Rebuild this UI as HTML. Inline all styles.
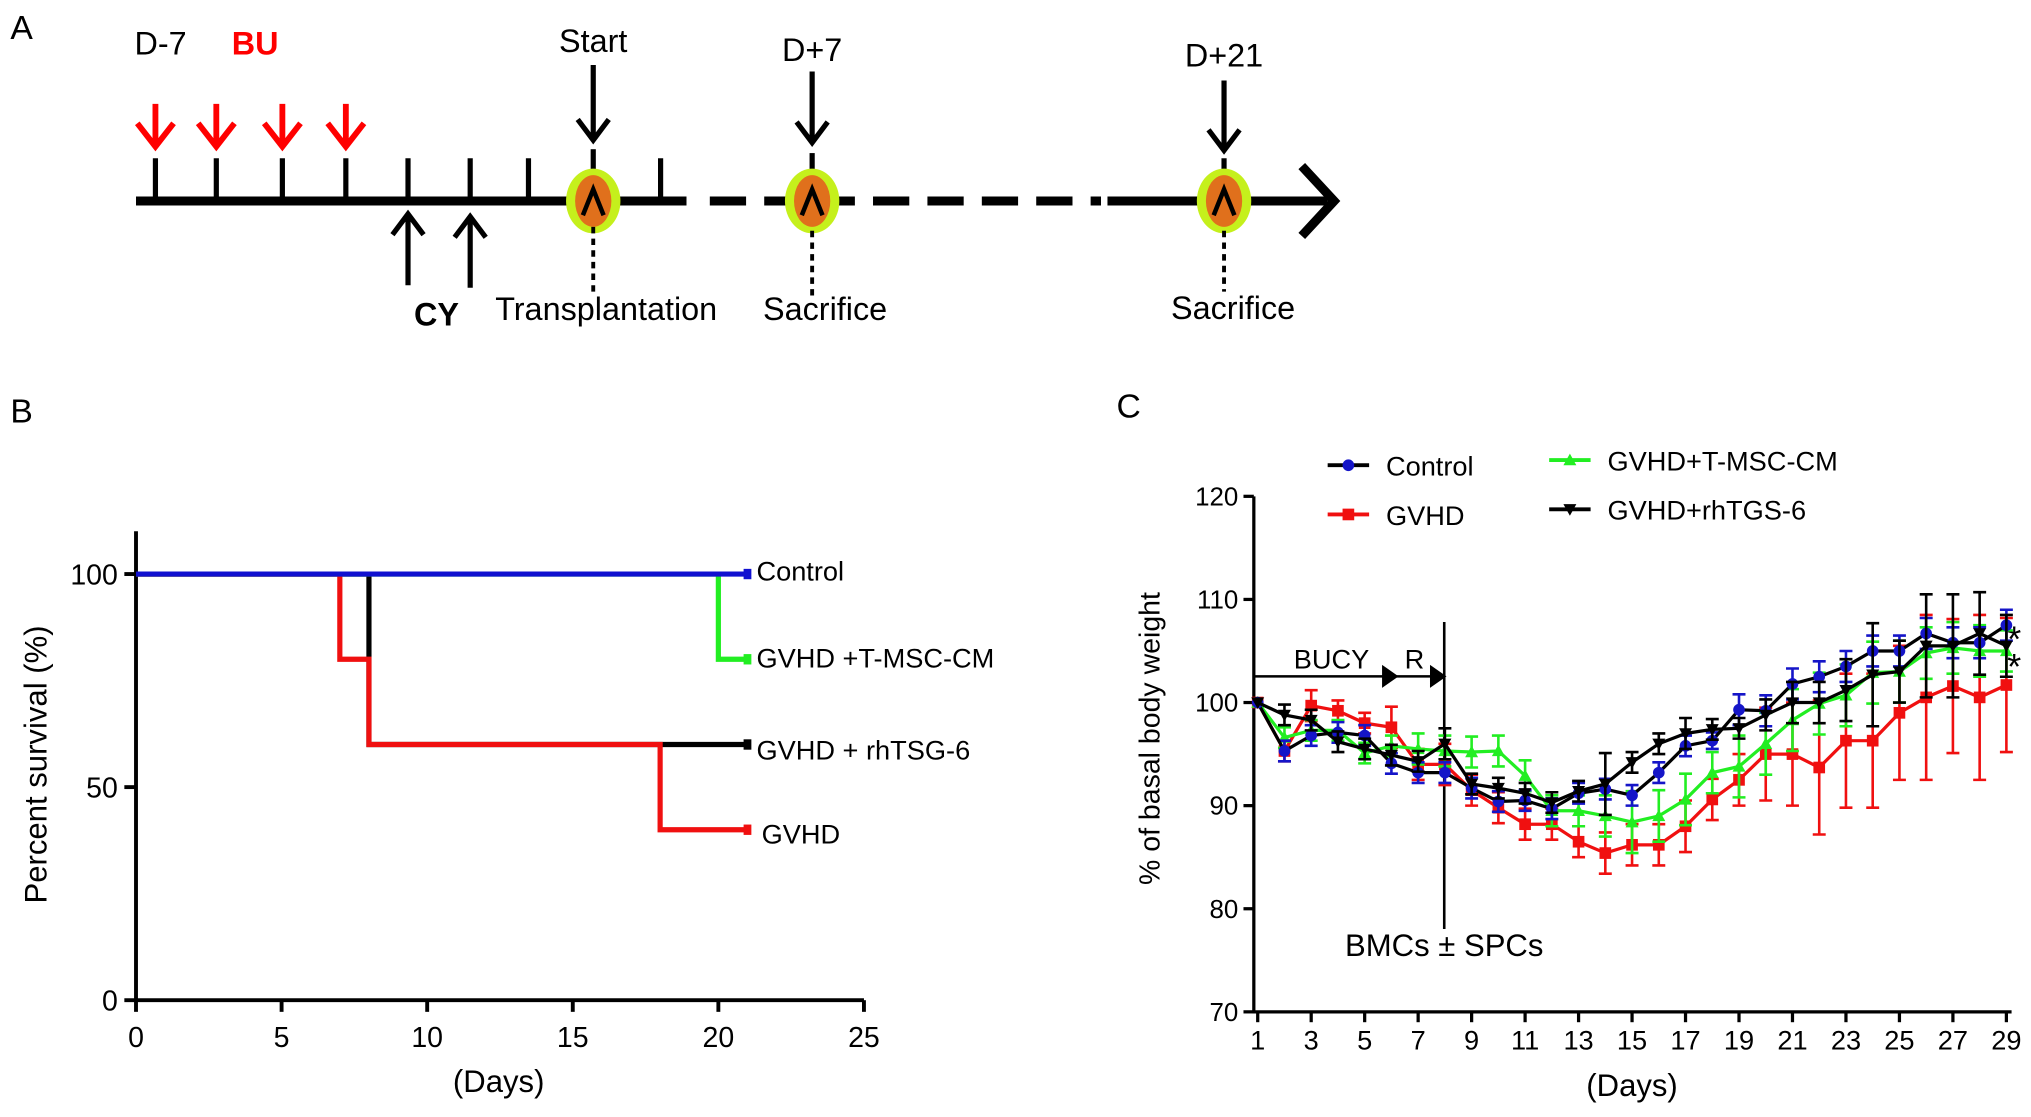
<!DOCTYPE html>
<html><head><meta charset="utf-8"><style>
html,body{margin:0;padding:0;background:#fff}
svg{display:block;font-family:"Liberation Sans",sans-serif}
</style></head><body>
<svg id="fig" width="2031" height="1117" viewBox="0 0 1568 862" xmlns="http://www.w3.org/2000/svg">
<rect width="1568" height="862" fill="#fff"/>
<g id="panelA">
<text x="8" y="30" font-size="26">A</text>
<line x1="105" y1="155" x2="530" y2="155" stroke="#000" stroke-width="7"/>
<line x1="548" y1="155" x2="850" y2="155" stroke="#000" stroke-width="7" stroke-dasharray="28,14"/>
<line x1="855" y1="155" x2="1025" y2="155" stroke="#000" stroke-width="7"/>
<polyline points="1005,128 1030,155 1005,182" fill="none" stroke="#000" stroke-width="7"/>
<g stroke="#000" stroke-width="4">
<line x1="120" y1="122" x2="120" y2="155"/><line x1="167" y1="122" x2="167" y2="155"/>
<line x1="218" y1="122" x2="218" y2="155"/><line x1="267" y1="122" x2="267" y2="155"/>
<line x1="315" y1="122" x2="315" y2="155"/><line x1="363" y1="122" x2="363" y2="155"/>
<line x1="408" y1="122" x2="408" y2="155"/><line x1="510" y1="122" x2="510" y2="155"/>
</g>
<g stroke="#f00" stroke-width="4.5" fill="none">
<path d="M120 80V113M106 95L120 113L134 95"/><path d="M167 80V113M153 95L167 113L181 95"/>
<path d="M218 80V113M204 95L218 113L232 95"/><path d="M267 80V113M253 95L267 113L281 95"/>
</g>
<g stroke="#000" stroke-width="4" fill="none">
<path d="M315 220V165M303 181L315 165L327 181"/><path d="M363 222V167M351 183L363 167L375 183"/>
<path d="M458 50V108M446 92L458 108L470 92"/><path d="M627 55V110M615 94L627 110L639 94"/><path d="M945 62V116M933 100L945 116L957 100"/>
<line x1="458" y1="115" x2="458" y2="135"/><line x1="627" y1="118" x2="627" y2="135"/><line x1="945" y1="122" x2="945" y2="135"/>
</g>
<g>
<ellipse cx="458" cy="155" rx="21" ry="25" fill="#c5f01c"/><ellipse cx="458" cy="155" rx="14" ry="20" fill="#e0701c"/>
<ellipse cx="627" cy="155" rx="21" ry="25" fill="#c5f01c"/><ellipse cx="627" cy="155" rx="14" ry="20" fill="#e0701c"/>
<ellipse cx="945" cy="155" rx="21" ry="25" fill="#c5f01c"/><ellipse cx="945" cy="155" rx="14" ry="20" fill="#e0701c"/>
<g stroke="#000" stroke-width="3.5" fill="none"><path d="M450 166L458 146L466 166"/><path d="M619 166L627 146L635 166"/><path d="M937 166L945 146L953 166"/></g>
<g stroke="#000" stroke-width="3" stroke-dasharray="5,4"><line x1="458" y1="175" x2="458" y2="225"/><line x1="627" y1="178" x2="627" y2="228"/><line x1="945" y1="178" x2="945" y2="225"/></g>
</g>
<g font-size="25" text-anchor="middle">
<text x="124" y="42">D-7</text><text x="197" y="42" fill="#f00" font-weight="bold">BU</text>
<text x="458" y="40">Start</text><text x="627" y="47">D+7</text><text x="945" y="51">D+21</text>
<text x="337" y="251" font-weight="bold">CY</text><text x="468" y="247">Transplantation</text>
<text x="637" y="247">Sacrifice</text><text x="952" y="246">Sacrifice</text>
</g>
</g>
<g id="panelB">
<text x="8" y="326" font-size="26">B</text>
</g>
<g id="panelC">
<text x="862" y="322" font-size="26">C</text>
</g>
</svg>
<script>
const NS='http://www.w3.org/2000/svg';
function mk(parent,tag,attrs,txt){const e=document.createElementNS(NS,tag);for(const k in attrs)e.setAttribute(k,attrs[k]);if(txt!==undefined)e.textContent=txt;parent.appendChild(e);return e;}

// ---- Panel B data ----
const survXTicks=[0,5,10,15,20,25];
const survYTicks=[0,50,100];
const ctrlT=[0,21];const ctrlS=[100,100];
const mscT=[0,20,21];const mscS=[100,80,80];
const tsgT=[0,8,21];const tsgS=[100,60,60];
const gvhdT=[0,7,8,18,21];const gvhdS=[100,80,60,40,40];
const survNames=['Control','GVHD +T-MSC-CM','GVHD + rhTSG-6','GVHD'];
const survLabelY=[440,507,578,643];

// ---- Panel C data ----
const days=[1,2,3,4,5,6,7,8,9,10,11,12,13,14,15,16,17,18,19,20,21,22,23,24,25,26,27,28,29];
const dayTicks=[1,3,5,7,9,11,13,15,17,19,21,23,25,27,29];
const wYTicks=[70,80,90,100,110,120];
const ctrlW=[100,95.3,96.8,97.1,96.8,94.1,93.2,93.2,91.7,90.4,90.5,89.7,91.2,91.6,91,93.2,95.8,96.3,99.3,99.2,101.8,102.5,103.5,105,105,106.7,105.8,105.8,107.5];
const ctrlE=[0,1,1,1,1,1,1,1,1,1,1,1,1,1,1,1,1,0.8,1.5,1.5,1.5,1.5,1.5,1.5,1.5,1.5,1.5,1.5,1.5];
const gvhdW=[100,95.3,99.7,99.2,98,97.6,94,94,91.5,89.8,88.2,88.2,86.5,85.4,86.2,86.2,88,90.6,92.5,95,95,93.7,96.3,96.3,99,100.5,101.6,100.5,101.7];
const gvhdE=[0,1,1.5,1,1,2,1.5,2,1.5,1.5,1.5,1.5,1.5,2,2,2,2.5,2,2.5,4.5,5,6.5,6.5,6.5,6.5,8,6.5,8,6.5];
const mscW=[100,96.6,97.3,97.3,95.1,95.8,95.5,95.3,95.2,95.3,92.9,89.5,89.5,89,88.4,89,90.6,93.2,93.8,96,98.3,99.9,100.7,102.9,103,104.8,105.3,105,105];
const mscE=[0,1,1,1,1,1,1.5,1.5,1.5,1.5,1.5,1.5,1.5,2,3,2.5,2.5,2,3,3,3,3,3,3,3,2.5,2.5,2.5,2];
const tsgW=[100,98.8,98.3,96.2,95.5,94.9,94.3,96,92.1,91.7,91.2,90.3,91.4,92.1,94.2,96,97,97.4,97.5,98.8,100,100,101.2,102.7,103,105.5,105.5,106.7,105.5];
const tsgE=[0,1,1,1,1,1,1,1.5,1,1,1,1,1,3,1,1,1.5,1,1,1.5,2,2,3,5,3,5,5,4,3];

// ===== Panel B =====
const pB=document.getElementById('panelB');
const bx=d=>105+d*(667-105)/25;
const by=v=>772-v*(772-443)/100;
const axB=mk(pB,'g',{stroke:'#000','stroke-width':3});


mk(axB,'line',{x1:105,y1:410,x2:105,y2:773});
mk(axB,'line',{x1:104,y1:772,x2:667,y2:772});
survXTicks.forEach(t=>{mk(axB,'line',{x1:bx(t),y1:772,x2:bx(t),y2:781});
const l=mk(pB,'text',{x:bx(t),y:808,'font-size':22,'text-anchor':'middle'},t);

});
survYTicks.forEach(t=>{mk(axB,'line',{x1:96,y1:by(t),x2:105,y2:by(t)});
const l=mk(pB,'text',{x:91,y:by(t)+8,'font-size':22,'text-anchor':'end'},t);

});
const bxt=mk(pB,'text',{x:385,y:843,'font-size':24,'text-anchor':'middle'},'(Days)');


const byt=mk(pB,'text',{x:0,y:0,'font-size':24,'text-anchor':'middle',transform:'translate(36,590) rotate(-90)'},'Percent survival (%)');


function stepPath(T,S){let d='M'+bx(T[0])+' '+by(S[0]);for(let i=1;i<T.length;i++){d+='H'+bx(T[i])+'V'+by(S[i]);}return d;}
[[tsgT,tsgS,'#000','survival-line-rhtsg6'],[mscT,mscS,'#22ee22','survival-line-tmsc-cm'],[gvhdT,gvhdS,'#f01010','survival-line-gvhd'],[ctrlT,ctrlS,'#1010d0','survival-line-control']].forEach(s=>{
const p=mk(pB,'path',{d:stepPath(s[0],s[1]),fill:'none',stroke:s[2],'stroke-width':4});


const T=s[0],S=s[1];const r=mk(pB,'rect',{x:bx(T[T.length-1])-3,y:by(S[S.length-1])-4,width:6,height:8,fill:s[2]});

});
survNames.forEach((n,i)=>{const t=mk(pB,'text',{x:i===3?588:584,y:survLabelY[i]+8,'font-size':21},n);

});

// ===== Panel C =====
const pC=document.getElementById('panelC');
const cx=d=>971+(d-1)*(1549-971)/28;
const cy=v=>781-(v-70)*(781-383)/50;
const axC=mk(pC,'g',{stroke:'#000','stroke-width':2.5});


mk(axC,'line',{x1:968,y1:383,x2:968,y2:782});
mk(axC,'line',{x1:967,y1:781,x2:1553,y2:781});
dayTicks.forEach(t=>{mk(axC,'line',{x1:cx(t),y1:781,x2:cx(t),y2:789});
const l=mk(pC,'text',{x:cx(t),y:810,'font-size':21,'text-anchor':'middle'},t);

});
wYTicks.forEach(t=>{mk(axC,'line',{x1:960,y1:cy(t),x2:968,y2:cy(t)});
const l=mk(pC,'text',{x:956,y:cy(t)+7,'font-size':20,'text-anchor':'end'},t);

});
const cxt=mk(pC,'text',{x:1260,y:846,'font-size':24,'text-anchor':'middle'},'(Days)');


const cyt=mk(pC,'text',{x:0,y:0,'font-size':22,'text-anchor':'middle',transform:'translate(895,570) rotate(-90)'},'% of basal body weight');


// annotations
const ann=mk(pC,'g',{stroke:'#000','stroke-width':2});


mk(ann,'line',{x1:968,y1:522,x2:1113,y2:522});
mk(ann,'path',{d:'M1068 515L1078 522L1068 529Z',fill:'#000'});
mk(ann,'path',{d:'M1105 515L1115 522L1105 529Z',fill:'#000'});
mk(ann,'line',{x1:1115,y1:480,x2:1115,y2:717});
const t1=mk(pC,'text',{x:1028,y:516,'font-size':21,'text-anchor':'middle'},'BUCY');


const t2=mk(pC,'text',{x:1092,y:516,'font-size':21,'text-anchor':'middle'},'R');


const t3=mk(pC,'text',{x:1115,y:738,'font-size':24,'text-anchor':'middle'},'BMCs ± SPCs');


const st1=mk(pC,'text',{x:1555,y:503,'font-size':28,'text-anchor':'middle'},'*');


const st2=mk(pC,'text',{x:1555,y:524,'font-size':28,'text-anchor':'middle'},'*');



function marker(g,type,x,y,col){
if(type==='circle')return mk(g,'circle',{cx:x,cy:y,r:4.5,fill:col});
if(type==='square')return mk(g,'rect',{x:x-4.5,y:y-4.5,width:9,height:9,fill:col});
if(type==='up')return mk(g,'path',{d:`M${x-5} ${y+4}L${x+5} ${y+4}L${x} ${y-5}Z`,fill:col});
return mk(g,'path',{d:`M${x-5} ${y-4}L${x+5} ${y-4}L${x} ${y+5}Z`,fill:col});}
const series=[
{v:gvhdW,e:gvhdE,line:'#f01010',mark:'#f01010',m:'square',name:'weight-series-gvhd'},
{v:mscW,e:mscE,line:'#22ee22',mark:'#22ee22',m:'up',name:'weight-series-tmsc-cm'},
{v:ctrlW,e:ctrlE,line:'#000',mark:'#1515c8',m:'circle',name:'weight-series-control'},
{v:tsgW,e:tsgE,line:'#000',mark:'#000',m:'down',name:'weight-series-rhtgs6'}];
series.forEach(s=>{
const g=mk(pC,'g',{});


const eb=mk(g,'g',{stroke:s.mark,'stroke-width':2});
days.forEach((d,i)=>{const x=cx(d),e=s.e[i];if(!e)return;
mk(eb,'path',{d:`M${x} ${cy(s.v[i]-e)}V${cy(s.v[i]+e)}M${x-5} ${cy(s.v[i]+e)}H${x+5}M${x-5} ${cy(s.v[i]-e)}H${x+5}`});});
mk(g,'polyline',{points:days.map((d,i)=>cx(d)+','+cy(s.v[i])).join(' '),fill:'none',stroke:s.line,'stroke-width':2.5});
days.forEach((d,i)=>{const m=marker(g,s.m,cx(d),cy(s.v[i]),s.mark);

});
});
// legend
const leg=[['Control','#1515c8','#000','circle',1025,359],['GVHD','#f01010','#f01010','square',1025,397],['GVHD+T-MSC-CM','#22ee22','#22ee22','up',1196,355],['GVHD+rhTGS-6','#000','#000','down',1196,393]];
leg.forEach(l=>{const g=mk(pC,'g',{});


mk(g,'line',{x1:l[4],y1:l[5],x2:l[4]+32,y2:l[5],stroke:l[2],'stroke-width':3});
marker(g,l[3],l[4]+16,l[5],l[1]);
mk(g,'text',{x:l[4]+45,y:l[5]+8,'font-size':21},l[0]);});
</script>
</body></html>
